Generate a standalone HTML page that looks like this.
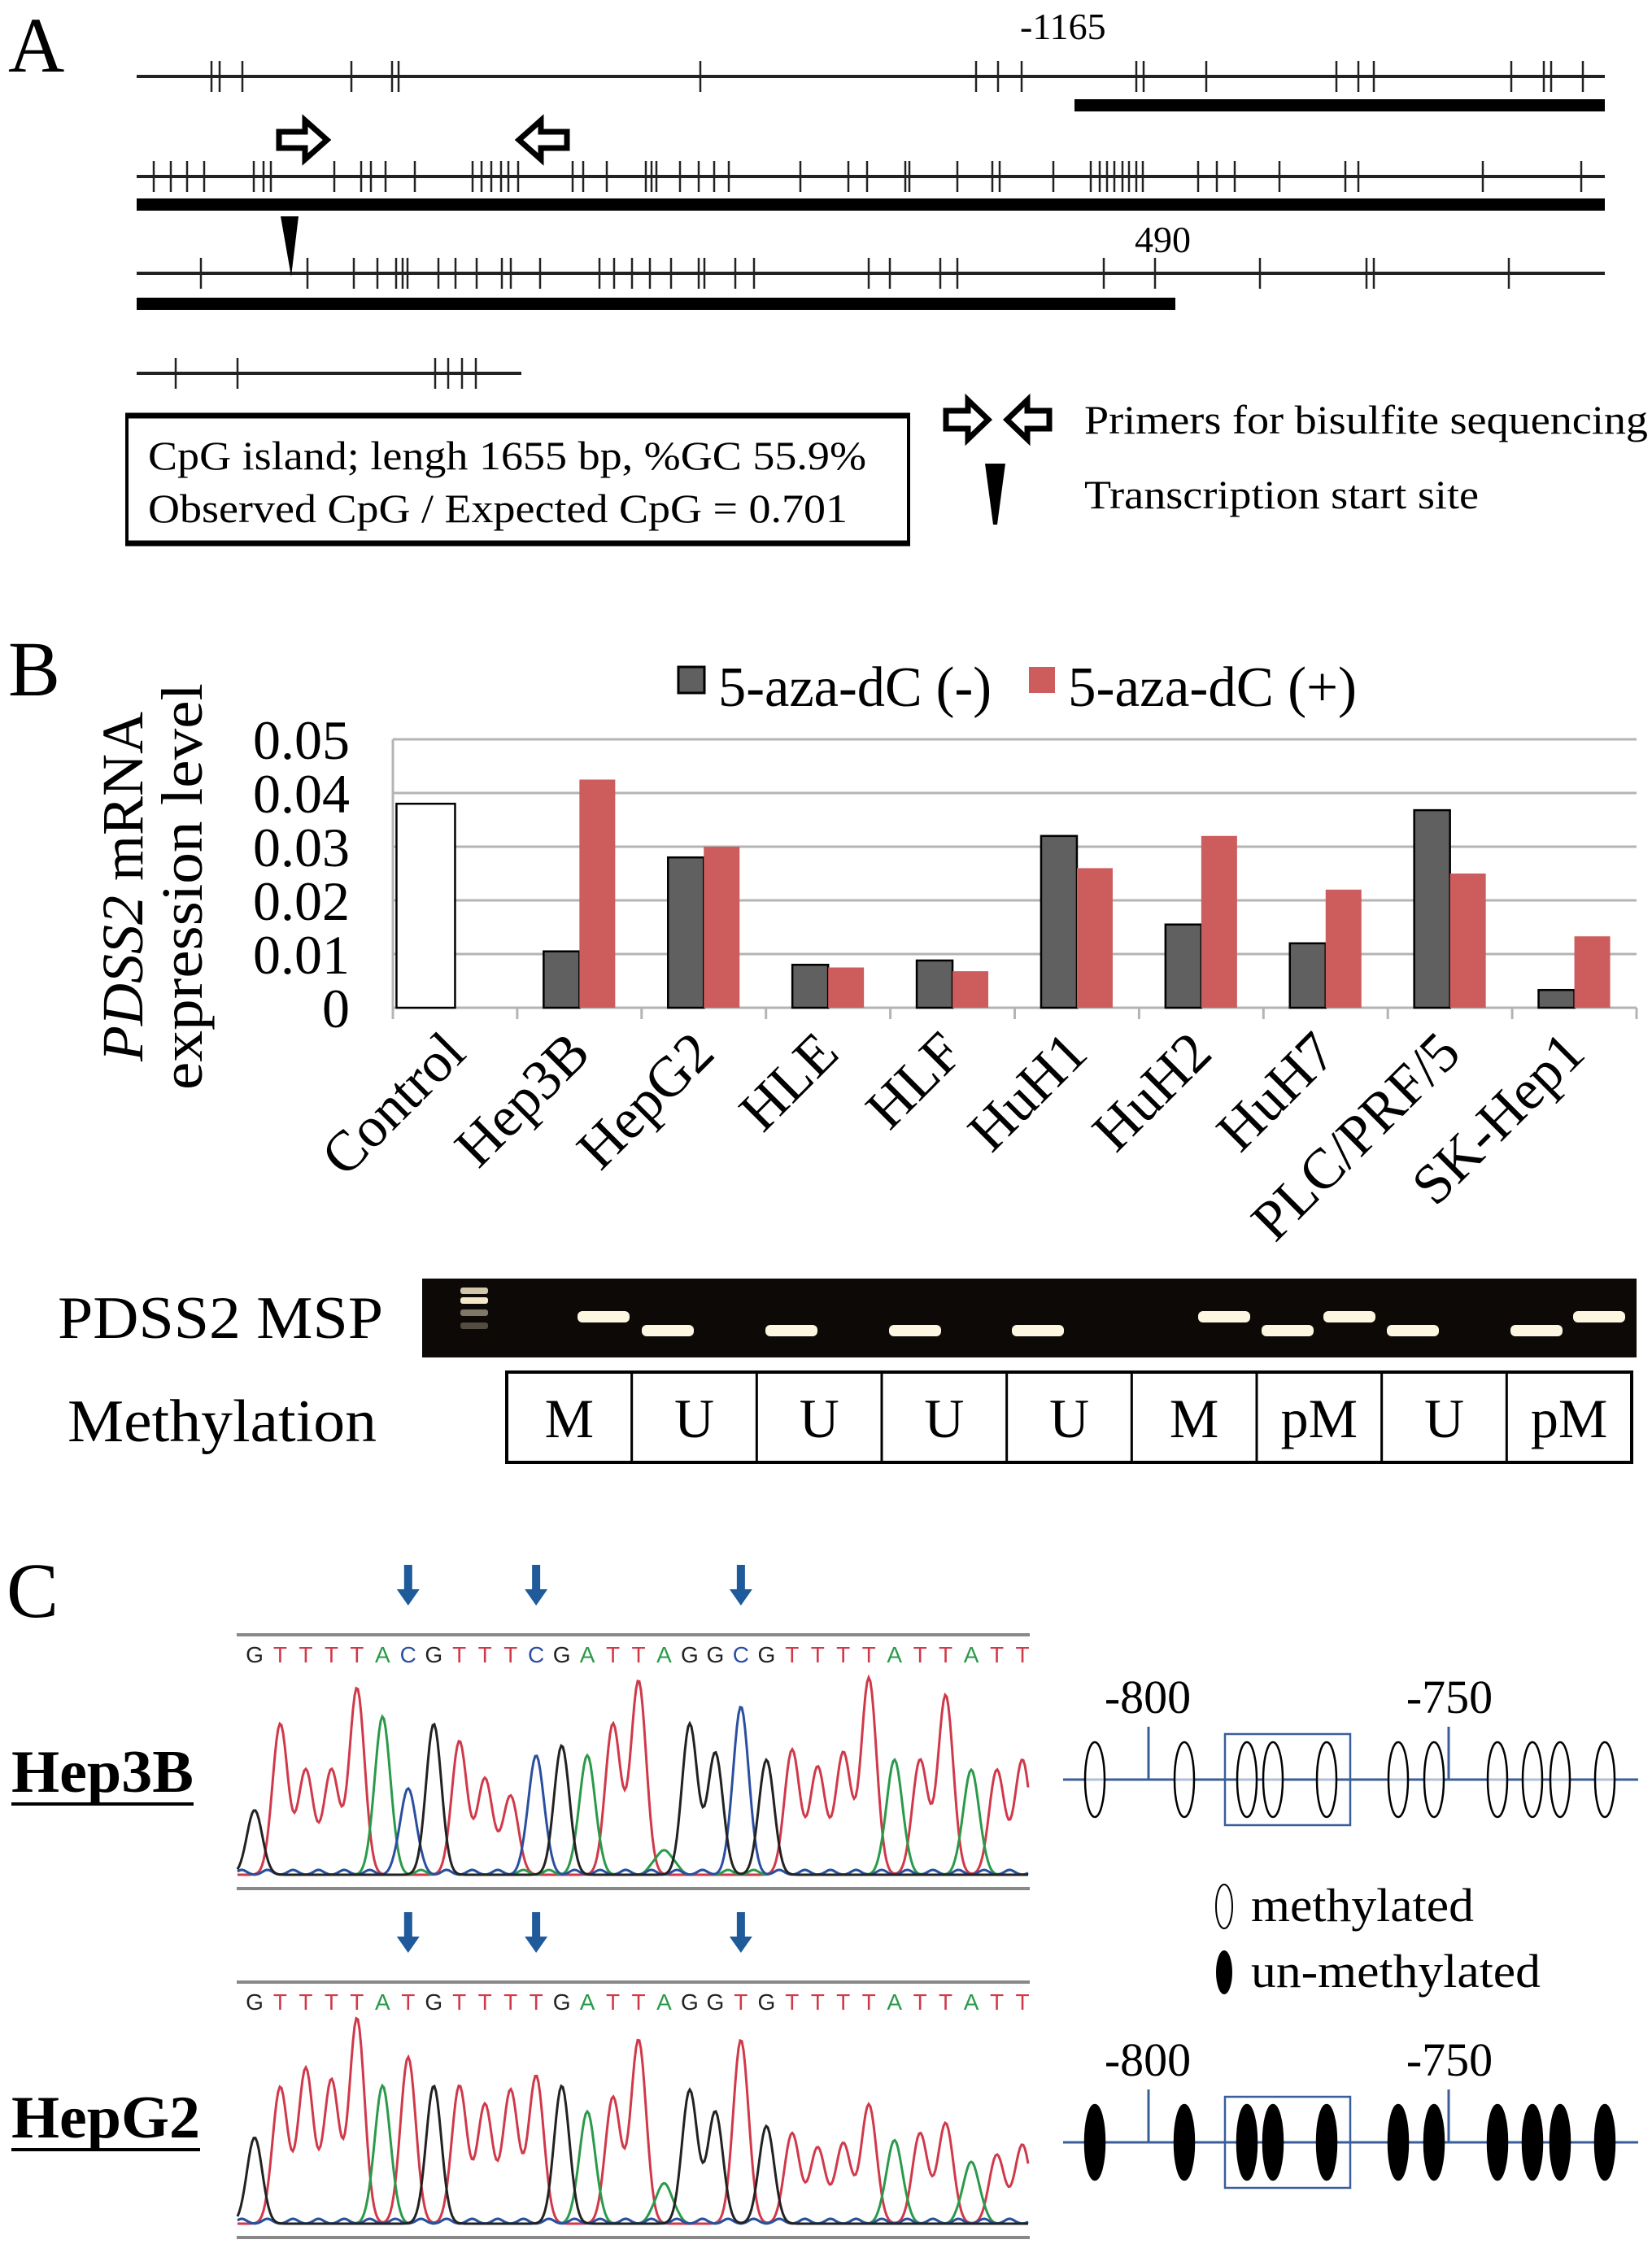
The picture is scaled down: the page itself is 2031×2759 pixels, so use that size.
<!DOCTYPE html>
<html><head><meta charset="utf-8"><style>
html,body{margin:0;padding:0;background:#fff;}
svg{display:block;font-family:"Liberation Serif",serif;}
</style></head><body>
<svg id="fig" width="2031" height="2759" viewBox="0 0 2031 2759" xmlns="http://www.w3.org/2000/svg">
<rect width="2031" height="2759" fill="#fff"/>
<g id="panelA">
<text x="10" y="88" font-size="96">A</text>
<text x="1254" y="48" font-size="46">-1165</text>
<text x="1395" y="310" font-size="46">490</text>
<g id="seqLines"></g>
<rect x="1321" y="122" width="652" height="15" fill="#000"/>
<rect x="168" y="244" width="1805" height="15" fill="#000"/>
<rect x="168" y="366" width="1277" height="15" fill="#000"/>
<path d="M343 162 H375 V148 L402 172 L375 196 V182 H343 Z" fill="#fff" stroke="#000" stroke-width="7"/>
<path d="M697 162 H665 V148 L638 172 L665 196 V182 H697 Z" fill="#fff" stroke="#000" stroke-width="7"/>
<path d="M345 266 L367 266 L358 340 Z" fill="#000"/>
<g>
<rect x="156" y="511" width="961" height="157" fill="#fff" stroke="#000" stroke-width="4"/>
<line x1="154" y1="511" x2="1119" y2="511" stroke="#000" stroke-width="7"/>
<line x1="154" y1="668" x2="1119" y2="668" stroke="#000" stroke-width="7"/>
<text x="182" y="577" font-size="50" textLength="883" lengthAdjust="spacingAndGlyphs">CpG island; lengh 1655 bp, %GC 55.9%</text>
<text x="182" y="642" font-size="50" textLength="860" lengthAdjust="spacingAndGlyphs">Observed CpG / Expected CpG = 0.701</text>
</g>
<path d="M1163 505 H1190 V492 L1215 516 L1190 540 V527 H1163 Z" fill="#fff" stroke="#000" stroke-width="7"/>
<path d="M1290 505 H1263 V492 L1238 516 L1263 540 V527 H1290 Z" fill="#fff" stroke="#000" stroke-width="7"/>
<text x="1333" y="533" font-size="50" textLength="693" lengthAdjust="spacingAndGlyphs">Primers for bisulfite sequencing</text>
<path d="M1211 570 L1236 570 L1226 645 L1221 645 Z" fill="#000"/>
<text x="1333" y="625" font-size="50" textLength="485" lengthAdjust="spacingAndGlyphs">Transcription start site</text>
</g>
<g id="panelB">
<text x="10" y="855" font-size="96">B</text>
<rect x="834" y="820" width="32" height="32" fill="#606060" stroke="#000" stroke-width="3"/>
<text x="883" y="868" font-size="70" textLength="336" lengthAdjust="spacingAndGlyphs">5-aza-dC (-)</text>
<rect x="1265" y="820" width="32" height="32" fill="#cd5c5c"/>
<text x="1313" y="868" font-size="70" textLength="355" lengthAdjust="spacingAndGlyphs">5-aza-dC (+)</text>
<g id="chart"></g>
<g transform="translate(175,1090) rotate(-90)">
<text x="0" y="0" font-size="72" text-anchor="middle"><tspan font-style="italic">PDSS2</tspan> mRNA</text>
<text x="0" y="73" font-size="72" text-anchor="middle" textLength="500" lengthAdjust="spacingAndGlyphs">expression level</text>
</g>
<text x="71" y="1645" font-size="74" textLength="400" lengthAdjust="spacingAndGlyphs">PDSS2 MSP</text>
<rect x="519" y="1572" width="1493" height="97" fill="#0d0906"/>
<g id="gel"></g>
<text x="83" y="1772" font-size="74" textLength="380" lengthAdjust="spacingAndGlyphs">Methylation</text>
<g id="methTable"></g>
</g>
<g id="panelC">
<text x="8" y="1988" font-size="96">C</text>
<text x="14" y="2203" font-size="74" font-weight="bold" textLength="224" lengthAdjust="spacingAndGlyphs">Hep3B</text>
<line x1="14" y1="2218" x2="238" y2="2218" stroke="#000" stroke-width="4"/>
<text x="14" y="2628" font-size="74" font-weight="bold" textLength="232" lengthAdjust="spacingAndGlyphs">HepG2</text>
<line x1="14" y1="2643" x2="246" y2="2643" stroke="#000" stroke-width="4"/>
<g id="chromo"></g>
<g id="cpgDiag"></g>
<ellipse cx="1505" cy="2344" rx="10" ry="27" fill="#fff" stroke="#000" stroke-width="2"/>
<text x="1538" y="2362" font-size="58" textLength="274" lengthAdjust="spacingAndGlyphs">methylated</text>
<ellipse cx="1505" cy="2425" rx="10" ry="27" fill="#000"/>
<text x="1538" y="2443" font-size="58" textLength="356" lengthAdjust="spacingAndGlyphs">un-methylated</text>
</g>
</svg>
<script>
const NS="http://www.w3.org/2000/svg";
function mk(tag,attrs,parent){const e=document.createElementNS(NS,tag);for(const k in attrs)e.setAttribute(k,attrs[k]);parent.appendChild(e);return e;}

const line1Sites=[260,270,298,432,482,490,861,1200,1227,1256,1397,1406,1483,1643,1670,1689,1858,1898,1907,1946];
const line2Sites=[189,210,230,251,312,324,333,411,444,456,474,510,581,592,604,616,625,637,704,717,746,794,801,807,836,859,878,896,984,1043,1066,1113,1118,1177,1220,1229,1295,1341,1352,1361,1370,1380,1388,1397,1405,1473,1496,1518,1573,1654,1670,1823,1944];
const line3Sites=[247,378,435,464,487,495,501,539,560,586,617,628,664,737,755,777,799,825,859,866,904,927,1068,1094,1156,1177,1357,1420,1549,1680,1689,1855];
const line4Sites=[216,292,535,551,568,585];
const seqRows=[{y:94,x1:168,x2:1973,s:line1Sites},{y:217,x1:168,x2:1973,s:line2Sites},{y:336,x1:168,x2:1973,s:line3Sites},{y:459,x1:168,x2:641,s:line4Sites}];
const sl=document.getElementById('seqLines');
seqRows.forEach((r,i)=>{
  const l=mk('line',{x1:r.x1,y1:r.y,x2:r.x2,y2:r.y,stroke:'#222','stroke-width':4},sl);
  
  
  r.s.forEach(x=>{
    const t=mk('line',{x1:x,y1:r.y-19,x2:x,y2:r.y+19,stroke:'#222','stroke-width':2.5},sl);
    
    
  });
});

const categories=["Control","Hep3B","HepG2","HLE","HLF","HuH1","HuH2","HuH7","PLC/PRF/5","SK-Hep1"];
const untreated=[0.038,0.0105,0.028,0.008,0.0088,0.032,0.0155,0.012,0.0368,0.0033];
const treated=[null,0.0425,0.030,0.0075,0.0068,0.026,0.032,0.022,0.025,0.0133];
const yTicks=[0,0.01,0.02,0.03,0.04,0.05];
const yTickLabels=["0","0.01","0.02","0.03","0.04","0.05"];
const X0=483,X1=2012,Y0=1239,YTOP=909,YMAX=0.05;
const catW=(X1-X0)/categories.length;
const yS=v=>Y0-(v/YMAX)*(Y0-YTOP);
const ch=document.getElementById('chart');
yTicks.forEach((t,i)=>{
  if(i>0){const g=mk('line',{x1:X0,y1:yS(t),x2:X1,y2:yS(t),stroke:'#b4b4b4','stroke-width':3},ch);
  
  }
  const tx=mk('text',{x:430,y:yS(t)+24,'font-size':68,'text-anchor':'end'},ch);
  tx.textContent=yTickLabels[i];
  
  
});
mk('line',{x1:X0,y1:YTOP,x2:X0,y2:Y0+14,stroke:'#b4b4b4','stroke-width':3},ch);
mk('line',{x1:X0,y1:Y0,x2:X1,y2:Y0,stroke:'#b4b4b4','stroke-width':3},ch);
const bw=44;
categories.forEach((c,i)=>{
  const cx=X0+catW*(i+0.5);
  const tk=mk('line',{x1:X0+catW*(i+1),y1:Y0,x2:X0+catW*(i+1),y2:Y0+14,stroke:'#b4b4b4','stroke-width':3},ch);
  
  
  const v1=untreated[i];
  const w1=i===0?72:bw;
  const b1=mk('rect',{x:cx-w1,y:yS(v1),width:w1,height:Y0-yS(v1),fill:i===0?'#fff':'#606060',stroke:'#000','stroke-width':2.5},ch);
  
  
  if(treated[i]!==null){
    const v2=treated[i];
    const b2=mk('rect',{x:cx,y:yS(v2),width:bw,height:Y0-yS(v2),fill:'#cd5c5c'},ch);
    
    
  }
  const lx=cx+16,ly=1298;
  const lt=mk('text',{x:lx,y:ly,'font-size':70,'text-anchor':'end',transform:`rotate(-45 ${lx} ${ly})`},ch);
  lt.textContent=c;
  
  
});

const gel=document.getElementById('gel');
const ladderY=[1587,1599,1614,1630];
const ladderOp=[0.85,1,0.5,0.3];
ladderY.forEach((y,i)=>{const r=mk('rect',{x:566,y:y-4,width:34,height:8,rx:3,fill:'#f4e8c8',opacity:ladderOp[i]},gel);

});
const bandX=[742,821,973,1125,1276,1505,1583,1659,1737,1889,1966];
const bandY=[1619,1636,1636,1636,1636,1619,1636,1619,1636,1636,1619];
bandX.forEach((x,i)=>{const r=mk('rect',{x:x-32,y:bandY[i]-7,width:64,height:14,rx:6,fill:'#fdf6e0'},gel);

});

const methStatus=["M","U","U","U","U","M","pM","U","pM"];
const mt=document.getElementById('methTable');
const TX0=623,TX1=2006,TY0=1687,TY1=1798,cw=(TX1-TX0)/methStatus.length;
mk('rect',{x:TX0,y:TY0,width:TX1-TX0,height:TY1-TY0,fill:'#fff',stroke:'#000','stroke-width':4},mt);
methStatus.forEach((m,i)=>{
  if(i>0)mk('line',{x1:TX0+cw*i,y1:TY0,x2:TX0+cw*i,y2:TY1,stroke:'#000','stroke-width':3},mt);
  const t=mk('text',{x:TX0+cw*(i+0.5),y:TY0+80,'font-size':68,'text-anchor':'middle'},mt);
  t.textContent=m;
  
  
});

const seq1="GTTTTACGTTTCGATTAGGCGTTTTATTATT";
const h1=[45,105,73,73,130,110,60,105,93,67,55,83,90,83,105,135,17,105,85,117,80,87,75,85,137,80,80,125,73,73,80];
const seq2="GTTTTATGTTTTGATTAGGTGTTTTATTATT";
const h2=[60,95,108,100,143,96,116,96,96,83,93,103,96,78,88,128,28,93,78,128,68,63,53,56,83,58,63,70,43,48,55];
const colorMap={G:'#222',T:'#d0394a',A:'#2a9a4a',C:'#2a4fa0'};
const arrowIdx=[6,11,19];
const BX0=313,BX1=1257,bs=(BX1-BX0)/(seq1.length-1);
const chromo=document.getElementById('chromo');
function drawChromo(seq,hts,topY,base,name){
  const g=mk('g',{},chromo);
  
  
  mk('line',{x1:291,y1:topY,x2:1266,y2:topY,stroke:'#888','stroke-width':4},g);
  mk('line',{x1:291,y1:base+17,x2:1266,y2:base+17,stroke:'#888','stroke-width':4},g);
  arrowIdx.forEach(k=>{const x=BX0+k*bs;
    const a=mk('path',{d:`M${x-5} ${topY-86} h10 v30 h9 l-14 20 l-14 -20 h9 z`,fill:'#1f5a9a'},g);
    
    });
  for(let i=0;i<seq.length;i++){const t=mk('text',{x:BX0+i*bs,y:topY+34,'font-size':28,'text-anchor':'middle',fill:colorMap[seq[i]],'font-family':'Liberation Sans, sans-serif'},g);t.textContent=seq[i];}
  const sig=bs*0.3;
  ['T','A','C','G'].forEach(b=>{
    let d='';
    for(let x=292;x<=1265;x+=2){let y=0;
      for(let i=0;i<seq.length;i++){if(seq[i]===b){const dx=x-(BX0+i*bs);y+=hts[i]*1.766*Math.exp(-dx*dx/(2*sig*sig));}}
      if(b==='C'||b==='A'){const dx=((x-BX0)%bs+bs)%bs-bs/2;y+=6*Math.exp(-dx*dx/(2*36));}
      d+=(d?'L':'M')+x+' '+(base-y).toFixed(1);}
    mk('path',{d:d,fill:'none',stroke:colorMap[b],'stroke-width':3},g);
  });
}
drawChromo(seq1,h1,2010,2305,'chromatogram-hep3b');
drawChromo(seq2,h2,2437,2734,'chromatogram-hepg2');

const cpgPos=[1346,1456,1533,1565,1631,1719,1763,1841,1884,1918,1973];
const cd=document.getElementById('cpgDiag');
function drawCpG(lineY,filled,name){
  const g=mk('g',{},cd);
  
  
  mk('line',{x1:1307,y1:lineY,x2:2014,y2:lineY,stroke:'#3a5e9a','stroke-width':3},g);
  mk('line',{x1:1412,y1:lineY-65,x2:1412,y2:lineY,stroke:'#3a5e9a','stroke-width':3},g);
  mk('line',{x1:1781,y1:lineY-65,x2:1781,y2:lineY,stroke:'#3a5e9a','stroke-width':3},g);
  mk('rect',{x:1506,y:lineY-56,width:154,height:112,fill:'none',stroke:'#3a5e9a','stroke-width':2.5},g);
  const t1=mk('text',{x:1411,y:lineY-82,'font-size':58,'text-anchor':'middle'},g);t1.textContent='-800';
  const t2=mk('text',{x:1782,y:lineY-82,'font-size':58,'text-anchor':'middle'},g);t2.textContent='-750';
  cpgPos.forEach(x=>{const e=mk('ellipse',{cx:x,cy:lineY,rx:12,ry:46,fill:filled?'#000':'#fff','fill-opacity':filled?1:0.6,stroke:'#000','stroke-width':2.5},g);
    
    });
}
drawCpG(2188,false,'cpg-diagram-hep3b');
drawCpG(2634,true,'cpg-diagram-hepg2');
</script>
</body></html>
